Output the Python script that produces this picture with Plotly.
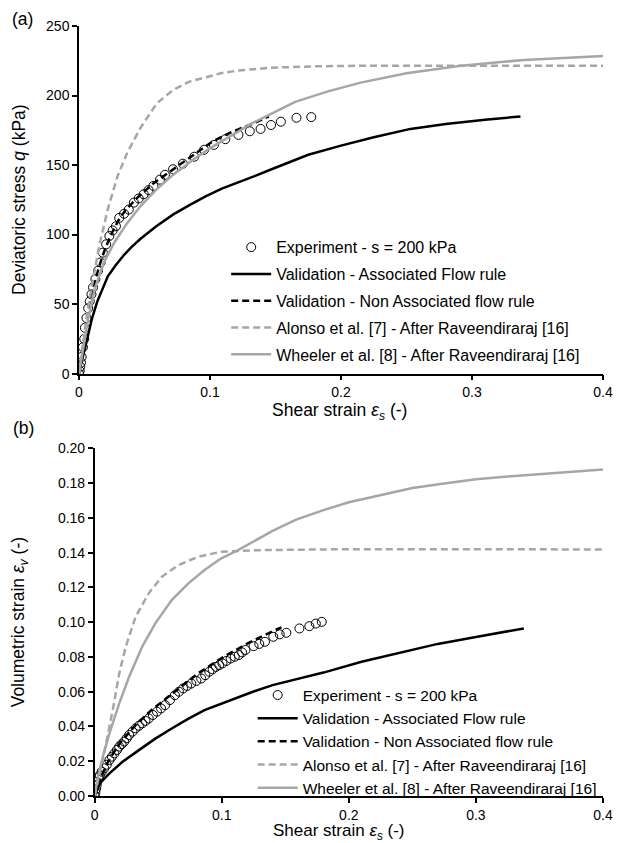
import plotly.graph_objects as go

# ---------------- Panel (a): deviatoric stress vs shear strain ----------------
exp_a_x = [0, 0.0005, 0.001, 0.0015, 0.002, 0.003, 0.004, 0.0045, 0.0057, 0.007, 0.0082, 0.0095,
           0.0107, 0.0125, 0.0145, 0.0165, 0.0182, 0.0207, 0.0232, 0.0257, 0.0282, 0.0307, 0.0344,
           0.038, 0.0419, 0.0456, 0.0494, 0.0531, 0.0568, 0.0618, 0.0656, 0.0718, 0.0793, 0.088,
           0.0955, 0.103, 0.1117, 0.1217, 0.1304, 0.1386, 0.1466, 0.1541, 0.166, 0.1773]
exp_a_q = [0, 2, 5, 8, 12, 19, 25, 33, 40, 47, 52, 57, 62, 68, 74, 80, 87, 93, 99, 103, 106, 112,
           115, 118, 123, 126, 129, 132, 135, 139.5, 143, 147, 151, 156, 161, 164.5, 168.6, 171.7,
           174.3, 176, 178.8, 181.2, 184, 184.5]

afr_a_x = [0, 0.001, 0.0025, 0.0045, 0.007, 0.01, 0.014, 0.018, 0.022, 0.028, 0.034, 0.04, 0.047,
           0.059, 0.072, 0.085, 0.097, 0.109, 0.122, 0.134, 0.147, 0.16, 0.175, 0.2, 0.225, 0.253,
           0.28, 0.31, 0.337]
afr_a_q = [0, 5, 11, 18, 29, 40, 52, 61, 70, 78, 85, 91, 97, 106, 114.5, 121.5, 127.6, 133, 137.5,
           142, 147, 152, 157.4, 164, 170, 176, 179.5, 182.5, 185]

nafr_a_x = [0, 0.001, 0.003, 0.006, 0.01, 0.015, 0.02, 0.025, 0.03, 0.035, 0.04, 0.045, 0.057,
            0.072, 0.087, 0.102, 0.117, 0.132, 0.145]
nafr_a_q = [0, 6, 18, 38, 58, 76, 90, 101, 110, 117, 122, 127, 137, 147, 157, 167, 174, 179.5, 185]

alonso_a_x = [0, 0.003, 0.006, 0.01, 0.0157, 0.0219, 0.0294, 0.0369, 0.0469, 0.0593, 0.0718,
              0.0843, 0.0967, 0.109, 0.1217, 0.1466, 0.18, 0.22, 0.3, 0.4]
alonso_a_q = [0, 22, 42, 64, 93, 118, 142, 159, 176.7, 194.3, 204, 210, 213.3, 216.2, 218, 220,
              221, 221.5, 221.5, 221.5]

wheeler_a_x = [0, 0.002, 0.004, 0.007, 0.012, 0.019, 0.027, 0.037, 0.047, 0.059, 0.072, 0.087,
               0.102, 0.117, 0.132, 0.147, 0.165, 0.19, 0.215, 0.25, 0.29, 0.32, 0.34, 0.37, 0.4]
wheeler_a_q = [0, 12, 24, 39.5, 61, 80, 94.3, 108.6, 120.5, 132.4, 143.1, 153.8, 163.3, 171.7,
               180, 187, 195.5, 203, 209.3, 216, 221.3, 224, 225.5, 227, 228.5]

# ---------------- Panel (b): volumetric strain vs shear strain ----------------
exp_b_x = [0, 0.0005, 0.001, 0.0015, 0.002, 0.003, 0.004, 0.0055, 0.0075, 0.0095, 0.0116, 0.0135,
           0.0155, 0.0175, 0.0193, 0.0212, 0.0232, 0.0252, 0.0271, 0.0297, 0.0322, 0.0348, 0.0374,
           0.04, 0.0425, 0.0458, 0.049, 0.0522, 0.0554, 0.0592, 0.0631, 0.0663, 0.0696, 0.0728,
           0.076, 0.08, 0.0838, 0.087, 0.0902, 0.0928, 0.0954, 0.098, 0.1005, 0.1037, 0.107, 0.1102,
           0.1134, 0.116, 0.1186, 0.125, 0.1295, 0.134, 0.1405, 0.1456, 0.1508, 0.1611, 0.1689,
           0.174, 0.1787]
exp_b_ev = [0, 0.002, 0.004, 0.006, 0.008, 0.0105, 0.012, 0.014, 0.016, 0.018, 0.0207, 0.0226,
            0.0245, 0.0265, 0.0284, 0.0298, 0.0313, 0.0332, 0.0351, 0.037, 0.0389, 0.0404, 0.0418,
            0.0432, 0.0446, 0.0466, 0.0485, 0.0504, 0.0523, 0.0552, 0.058, 0.06, 0.0619, 0.0633,
            0.0647, 0.0662, 0.0676, 0.0695, 0.0715, 0.0729, 0.0743, 0.0753, 0.0763, 0.0777, 0.0791,
            0.0801, 0.0811, 0.0826, 0.084, 0.0862, 0.0875, 0.0887, 0.0916, 0.093, 0.0939, 0.0964,
            0.0977, 0.0992, 0.1002]

afr_b_x = [0, 0.004, 0.0116, 0.0219, 0.0348, 0.0477, 0.0606, 0.0735, 0.0864, 0.1, 0.1121, 0.125,
           0.14, 0.16, 0.18, 0.21, 0.24, 0.27, 0.3, 0.3377]
afr_b_ev = [0, 0.0073, 0.013, 0.0197, 0.0264, 0.033, 0.0388, 0.0444, 0.0494, 0.0532, 0.0566,
            0.0601, 0.0638, 0.0675, 0.071, 0.0772, 0.0825, 0.0875, 0.0915, 0.0964]

nafr_b_x = [0, 0.002, 0.005, 0.01, 0.015, 0.02, 0.0322, 0.045, 0.058, 0.07, 0.0812, 0.0993, 0.12,
            0.1431, 0.147]
nafr_b_ev = [0, 0.0055, 0.011, 0.019, 0.025, 0.0305, 0.0408, 0.0497, 0.0571, 0.0643, 0.0705,
             0.0791, 0.0877, 0.0958, 0.097]

alonso_b_x = [0, 0.002, 0.0039, 0.009, 0.0142, 0.0193, 0.0245, 0.0322, 0.0425, 0.0528, 0.0657,
              0.0812, 0.0993, 0.125, 0.1508, 0.2, 0.3, 0.4]
alonso_b_ev = [0, 0.006, 0.013, 0.0305, 0.0494, 0.0705, 0.086, 0.1031, 0.1166, 0.1261, 0.1328,
               0.1376, 0.1405, 0.1414, 0.1417, 0.142, 0.142, 0.1418]

wheeler_b_x = [0, 0.0026, 0.0064, 0.0116, 0.0193, 0.0271, 0.0374, 0.0477, 0.0606, 0.0735, 0.0864,
               0.0993, 0.1121, 0.125, 0.14, 0.1585, 0.18, 0.2, 0.225, 0.25, 0.275, 0.3, 0.325,
               0.35, 0.375, 0.4]
wheeler_b_ev = [0, 0.0113, 0.0226, 0.036, 0.0533, 0.0686, 0.086, 0.0993, 0.1127, 0.1222, 0.13,
                0.1366, 0.1412, 0.1466, 0.1525, 0.159, 0.1645, 0.169, 0.173, 0.1772, 0.1798,
                0.1822, 0.1838, 0.1852, 0.1866, 0.1878]

names = ["Experiment - s = 200 kPa",
         "Validation - Associated Flow rule",
         "Validation - Non Associated flow rule",
         "Alonso et al. [7] - After Raveendiraraj [16]",
         "Wheeler et al. [8] - After Raveendiraraj [16]"]

x_ticks = [0, 0.1, 0.2, 0.3, 0.4]
x_ticktext = ["0", "0.1", "0.2", "0.3", "0.4"]
q_ticks = [0, 50, 100, 150, 200, 250]
ev_ticks = [0, 0.02, 0.04, 0.06, 0.08, 0.10, 0.12, 0.14, 0.16, 0.18, 0.20]

FONT = "Liberation Sans, Arial, sans-serif"
GRAY = "#A6A6A6"
DASH = "7px,4px"

fig = go.Figure()


def add_panel(xa, ya, legend, data):
    (ex, ey), (ax_, ay), (nx, ny), (alx, aly), (wx, wy) = data
    common = dict(xaxis=xa, yaxis=ya, legend=legend)
    fig.add_trace(go.Scatter(x=ex, y=ey, mode="markers", name=names[0], legendgroup=legend + "0",
                             marker=dict(symbol="circle-open", size=9, color="black",
                                         line=dict(width=1)), **common))
    fig.add_trace(go.Scatter(x=ax_, y=ay, mode="lines", name=names[1], legendgroup=legend + "1",
                             line=dict(color="black", width=2.5), **common))
    fig.add_trace(go.Scatter(x=nx, y=ny, mode="lines", name=names[2], legendgroup=legend + "2",
                             line=dict(color="black", width=2.5, dash=DASH), **common))
    fig.add_trace(go.Scatter(x=alx, y=aly, mode="lines", name=names[3], legendgroup=legend + "3",
                             line=dict(color=GRAY, width=2.5, dash=DASH), **common))
    fig.add_trace(go.Scatter(x=wx, y=wy, mode="lines", name=names[4], legendgroup=legend + "4",
                             line=dict(color=GRAY, width=2.5), **common))


add_panel("x", "y", "legend",
          [(exp_a_x, exp_a_q), (afr_a_x, afr_a_q), (nafr_a_x, nafr_a_q),
           (alonso_a_x, alonso_a_q), (wheeler_a_x, wheeler_a_q)])
add_panel("x2", "y2", "legend2",
          [(exp_b_x, exp_b_ev), (afr_b_x, afr_b_ev), (nafr_b_x, nafr_b_ev),
           (alonso_b_x, alonso_b_ev), (wheeler_b_x, wheeler_b_ev)])

axis_style = dict(showgrid=False, zeroline=False, showline=True, linecolor="black", linewidth=1.5,
                  ticks="outside", ticklen=5, tickwidth=1.5, tickcolor="black",
                  tickfont=dict(family=FONT, size=14, color="black"))

# the page body adds an 8px offset; the figure is sized so its plot areas land on target pixels
OFF = 8
W, H = 623 - OFF, 843 - OFF
ML, MR, MT, MB = 79 - OFF, 10, 23 - OFF, 47
PW, PH = W - ML - MR, H - MT - MB


def px(p):
    # p: pixel in the final screenshot
    return (p - 79) / PW


def py(p):
    return (796 - p) / PH


fig.update_layout(
    width=W, height=H,
    margin=dict(l=ML, r=MR, t=MT, b=MB),
    paper_bgcolor="white", plot_bgcolor="white",
    font=dict(family=FONT, size=14, color="black"),
    xaxis=dict(domain=[0, 1], anchor="y", range=[0, 0.4], tickvals=x_ticks,
               ticktext=x_ticktext, **axis_style),
    yaxis=dict(domain=[py(372), 1], anchor="x", range=[0, 250], tickvals=q_ticks, **axis_style),
    xaxis2=dict(domain=[px(95), 1], anchor="y2", range=[0, 0.4], tickvals=x_ticks,
                ticktext=x_ticktext, **axis_style),
    yaxis2=dict(domain=[0, py(447)], anchor="x2", range=[0, 0.2], tickvals=ev_ticks,
                tickformat=".2f", **axis_style),
    legend=dict(x=px(229), y=py(228), xanchor="left", yanchor="top", bgcolor="rgba(0,0,0,0)",
                font=dict(family=FONT, size=16, color="black"), traceorder="grouped",
                tracegroupgap=3, itemwidth=40),
    legend2=dict(x=px(256), y=py(678), xanchor="left", yanchor="top", bgcolor="rgba(0,0,0,0)",
                 font=dict(family=FONT, size=15.5, color="black"), traceorder="grouped",
                 tracegroupgap=0, itemwidth=40),
)

ann_font = dict(family=FONT, size=17.5, color="black")
xt_font = dict(family=FONT, size=17, color="black")
annotations = [
    dict(text="Deviatoric stress <i>q</i> (kPa)", x=px(18), y=py(197.5), textangle=-90, font=ann_font),
    dict(text="Volumetric strain <i>ε<sub>v</sub></i> (-)", x=px(18), y=py(621.5), textangle=-90,
         font=ann_font),
    dict(text="Shear strain <i>ε<sub>s</sub></i> (-)", x=px(344), y=py(409.5), font=ann_font),
    dict(text="Shear strain <i>ε<sub>s</sub></i> (-)", x=px(344), y=py(832.5), font=xt_font),
    dict(text="(a)", x=px(21), y=py(16), font=ann_font),
    dict(text="(b)", x=px(22), y=py(427), font=ann_font),
]
for a in annotations:
    fig.add_annotation(xref="paper", yref="paper", showarrow=False, xanchor="center",
                       yanchor="middle", **a)

fig.write_html("out.html")
